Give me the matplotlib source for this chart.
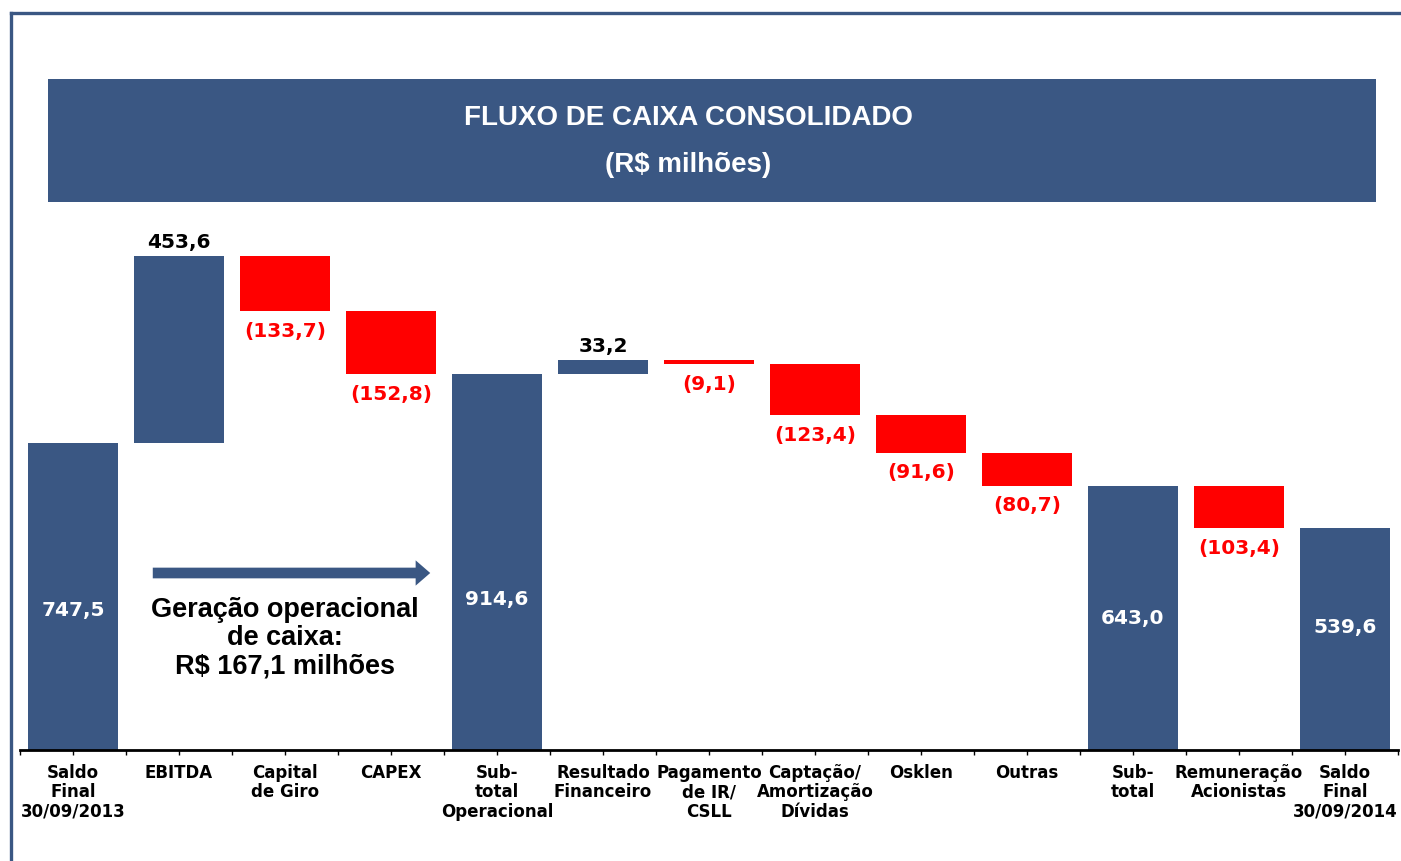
import matplotlib
matplotlib.use('Agg')
import matplotlib.pyplot as plt
from matplotlib.patches import Rectangle
from matplotlib.lines import Line2D

# ---------------- data ----------------
categories = ["Saldo\nFinal\n30/09/2013", "EBITDA", "Capital\nde Giro", "CAPEX",
              "Sub-\ntotal\nOperacional", "Resultado\nFinanceiro", "Pagamento\nde IR/\nCSLL",
              "Captação/\nAmortização\nDívidas", "Osklen", "Outras", "Sub-\ntotal",
              "Remuneração\nAcionistas", "Saldo\nFinal\n30/09/2014"]
values = [747.5, 453.6, -133.7, -152.8, 914.6, 33.2, -9.1, -123.4, -91.6, -80.7, 643.0, -103.4, 539.6]
is_total = [True, False, False, False, True, False, False, False, False, False, True, False, True]

title_lines = ["FLUXO DE CAIXA CONSOLIDADO", "(R$ milhões)"]
note_text = "Geração operacional\nde caixa:\nR$ 167,1 milhões"

# ---------------- style ----------------
BLUE = "#3A5783"
RED = "#FF0000"
W, H = 1401, 861
DPI = 100

fig = plt.figure(figsize=(W / DPI, H / DPI), dpi=DPI)
fig.patch.set_facecolor("white")

def fx(px):
    return px / W

def fy(py):
    return 1 - py / H

# frame lines (left and top)
fig.add_artist(Line2D([fx(10.5), fx(10.5)], [fy(13), 0], color=BLUE, lw=2.4))
fig.add_artist(Line2D([fx(10.5), 1], [fy(13), fy(13)], color=BLUE, lw=2.4))

# title box
fig.add_artist(Rectangle((fx(48), fy(202)), fx(1376) - fx(48), fy(79) - fy(202),
                         transform=fig.transFigure, facecolor=BLUE, edgecolor="none"))
fig.text(fx(688), fy(118), title_lines[0], color="white", ha="center", va="center",
         fontsize=20, fontweight="bold", family="Liberation Sans")
fig.text(fx(688), fy(165), title_lines[1], color="white", ha="center", va="center",
         fontsize=20, fontweight="bold", family="Liberation Sans")

# axes
ax_left, ax_right = 20, 1398
base_py, top_py = 750, 202
ax = fig.add_axes([fx(ax_left), fy(base_py), fx(ax_right) - fx(ax_left), fy(top_py) - fy(base_py)])
ax.set_facecolor("none")
ymax = (base_py - top_py) / 0.411
ax.set_ylim(0, ymax)
n = len(categories)
ax.set_xlim(-0.5, n - 0.5)

# waterfall computation
bottoms, heights, colors = [], [], []
running = 0.0
for v, tot in zip(values, is_total):
    if tot:
        bottoms.append(0.0)
        heights.append(v)
        colors.append(BLUE)
        running = v
    else:
        bottoms.append(running + min(0.0, v))
        heights.append(abs(v))
        colors.append(BLUE if v > 0 else RED)
        running += v

x = list(range(n))
ax.bar(x, heights, bottom=bottoms, width=0.85, color=colors, edgecolor="none", zorder=2)

def fmt(v):
    s = f"{abs(v):.1f}".replace(".", ",")
    return f"({s})" if v < 0 else s

label_font = dict(fontsize=14.5, fontweight="bold", family="DejaVu Sans")
inside_label_y = {0: 340, 4: 367, 10: 319, 12: 299}
for i, (v, tot) in enumerate(zip(values, is_total)):
    if tot:
        ax.text(i, inside_label_y.get(i, heights[i] / 2), fmt(v), color="white",
                ha="center", va="center", **label_font)
    elif v > 0:
        ax.annotate(fmt(v), (i, bottoms[i] + heights[i]), xytext=(0, 3),
                    textcoords="offset points", ha="center", va="bottom",
                    color="black", **label_font)
    else:
        ax.annotate(fmt(v), (i, bottoms[i]), xytext=(0, -14.5),
                    textcoords="offset points", ha="center", va="center",
                    color=RED, **label_font)

# ticks
ax.set_xticks(x)
ax.set_xticklabels(categories, fontsize=12, fontweight="bold", family="DejaVu Sans",
                   linespacing=1.1)
ax.set_xticks([i - 0.5 for i in range(n + 1)], minor=True)
ax.tick_params(axis="x", which="both", direction="out", length=3.5, width=1,
               color="black", pad=6.5)
ax.set_yticks([])
for s in ["left", "right", "top"]:
    ax.spines[s].set_visible(False)
ax.spines["bottom"].set_linewidth(2)
ax.spines["bottom"].set_color("black")

# arrow and note
def dx(px):
    return (px - ax_left) / 106.0 - 0.5

def dy(py):
    return (base_py - py) / 0.411

ax.annotate("", xy=(dx(433), dy(573)), xytext=(dx(150), dy(573)),
            arrowprops=dict(arrowstyle="simple,head_length=0.75,head_width=1.3,tail_width=0.55",
                            mutation_scale=14, color=BLUE, lw=0), zorder=3)
ax.text(dx(285), dy(638), note_text, ha="center", va="center", fontsize=19.5,
        fontweight="bold", family="Liberation Sans", linespacing=1.1, color="black")

fig.savefig("out.png", dpi=DPI)
